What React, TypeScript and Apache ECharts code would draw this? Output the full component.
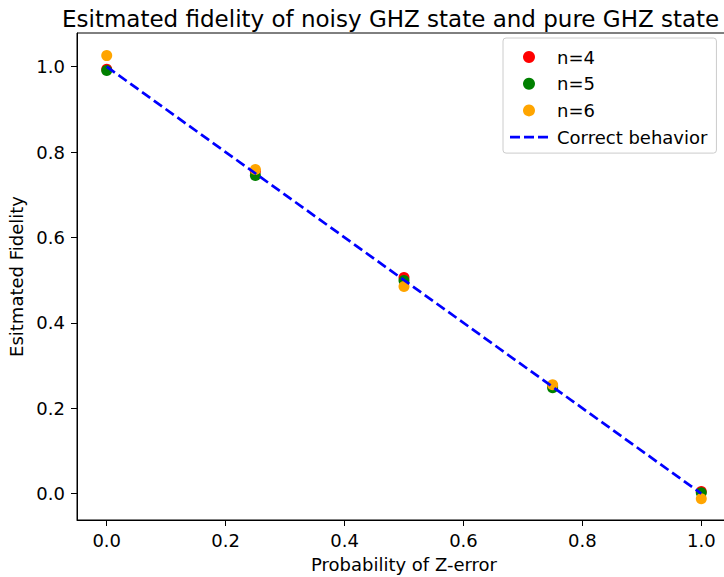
import React, { useEffect, useRef } from "react";
import * as echarts from "echarts";

const xValues = [0, 0.25, 0.5, 0.75, 1.0];
const n4 = [0.994, 0.755, 0.506, 0.252, 0.005];
const n5 = [0.991, 0.745, 0.499, 0.248, 0.002];
const n6 = [1.026, 0.759, 0.485, 0.255, -0.012];
const correct = [
  [0, 1],
  [1, 0],
];
const tickValues = [0, 0.2, 0.4, 0.6, 0.8, 1.0];

const FONT = "DejaVu Sans";
const DASH_ICON =
  "path://M0,0L0.01,0L0.01,0.01Z M38,12L37.99,12L37.99,11.99Z M0,4.6h10v2.8h-10Z M14,4.6h10v2.8h-10Z M28,4.6h10v2.8h-10Z";

export default function App() {
  const ref = useRef<HTMLDivElement>(null);
  useEffect(() => {
    if (!ref.current) return;
    const chart = echarts.init(ref.current, null, { renderer: "svg" });
    const pts = (ys: number[]) => xValues.map((x, i) => [x, ys[i]]);
    const scatter = (name: string, ys: number[], color: string, z: number) => ({
      name,
      type: "scatter",
      data: pts(ys),
      symbol: "circle",
      symbolSize: 11,
      itemStyle: { color, opacity: 1 },
      z,
    });
    const axisText = { fontFamily: FONT, fontSize: 18, color: "#000" };
    chart.setOption({
      animation: false,
      backgroundColor: "#ffffff",
      title: {
        text: "Esitmated fidelity of noisy GHZ state and pure GHZ state",
        left: 57,
        top: 2,
        textStyle: { fontFamily: FONT, fontSize: 23, fontWeight: "normal", color: "#000" },
      },
      legend: {
        orient: "vertical",
        left: 503,
        top: 38,
        itemWidth: 38,
        itemHeight: 12,
        itemGap: 8.7,
        padding: [10, 9, 7, 7],
        backgroundColor: "#fff",
        borderColor: "#cccccc",
        borderWidth: 1,
        borderRadius: 3,
        textStyle: { fontFamily: FONT, fontSize: 18, lineHeight: 18, color: "#000", padding: [0, 0, 0, 4] },
        data: [
          { name: "n=4", icon: "circle" },
          { name: "n=5", icon: "circle" },
          { name: "n=6", icon: "circle" },
          { name: "Correct behavior", icon: DASH_ICON, itemStyle: { color: "#0000ff" } },
        ],
      },
      grid: {
        left: 77,
        top: 33,
        width: 654,
        height: 487,
        containLabel: false,
        outerBoundsMode: "none",
        show: true,
        borderColor: "#000",
        borderWidth: 1,
        backgroundColor: "transparent",
      },
      xAxis: {
        type: "value",
        min: -0.05,
        max: 1.05,
        name: "Probability of Z-error",
        nameLocation: "middle",
        nameGap: 35,
        nameTextStyle: axisText,
        axisLine: { show: true, onZero: false, lineStyle: { color: "#000", width: 1 } },
        axisTick: { show: true, length: 6, customValues: tickValues, lineStyle: { color: "#000" } },
        axisLabel: {
          ...axisText,
          customValues: tickValues,
          margin: 11,
          formatter: (v: number) => v.toFixed(1),
        },
        splitLine: { show: false },
      },
      yAxis: {
        type: "value",
        min: -0.062,
        max: 1.079,
        name: "Esitmated Fidelity",
        nameLocation: "middle",
        nameGap: 49,
        nameTextStyle: axisText,
        axisLine: { show: true, onZero: false, lineStyle: { color: "#000", width: 1 } },
        axisTick: { show: true, length: 6, customValues: tickValues, lineStyle: { color: "#000" } },
        axisLabel: {
          ...axisText,
          customValues: tickValues,
          margin: 12,
          formatter: (v: number) => v.toFixed(1),
        },
        splitLine: { show: false },
      },
      series: [
        scatter("n=4", n4, "#ff0000", 2),
        scatter("n=5", n5, "#008000", 3),
        scatter("n=6", n6, "#ffa500", 4),
        {
          name: "Correct behavior",
          type: "line",
          data: correct,
          symbol: "none",
          showSymbol: false,
          lineStyle: { color: "#0000ff", width: 2.7, type: [10, 4.5] },
          itemStyle: { color: "#0000ff" },
          z: 5,
        },
      ],
    });
    return () => chart.dispose();
  }, []);
  return (
    <div
      ref={ref}
      style={{ position: "absolute", left: 0, top: 0, width: 724, height: 577 }}
    />
  );
}
